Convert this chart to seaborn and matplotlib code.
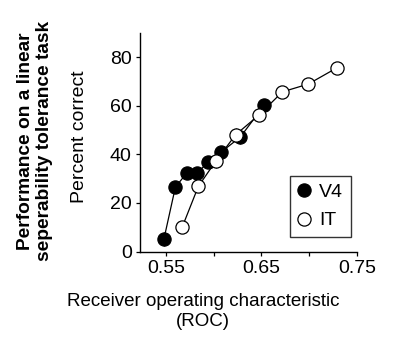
import numpy as np
import pandas as pd
import seaborn as sns
import matplotlib.pyplot as plt

# Values
v4_roc = [0.548, 0.560, 0.572, 0.583, 0.594, 0.608, 0.628, 0.653]
v4_pct = [5.1, 26.5, 32.4, 32.3, 36.8, 41.0, 47.2, 60.3]
v4_err = [3.0, 2.5, 2.5, 2.5, 2.5, 2.5, 3.0, 2.5]

it_roc = [0.567, 0.584, 0.602, 0.623, 0.647, 0.672, 0.699, 0.729]
it_pct = [9.9, 26.8, 37.1, 48.1, 56.1, 65.8, 69.0, 75.7]
it_err = [1.5, 2.0, 2.5, 3.0, 2.5, 2.5, 2.0, 2.5]

x_ticks = [0.55, 0.65, 0.75]
x_minor = [0.60, 0.70]
y_ticks = [0, 20, 40, 60, 80]

df = pd.concat([
    pd.DataFrame({'roc': v4_roc, 'pct': v4_pct, 'err': v4_err, 'area': 'V4'}),
    pd.DataFrame({'roc': it_roc, 'pct': it_pct, 'err': it_err, 'area': 'IT'}),
])

sns.set_style("ticks")
plt.rcParams['font.family'] = ['Liberation Sans', 'DejaVu Sans']
for k in ['text.color', 'axes.labelcolor', 'xtick.color', 'ytick.color', 'axes.edgecolor']:
    plt.rcParams[k] = 'black'

fig = plt.figure(figsize=(4.0, 3.37), dpi=100)
ax = fig.add_axes([0.35, 0.2537, 0.5425, 0.648])

faces = {'V4': 'black', 'IT': 'white'}
for area in ['V4', 'IT']:
    sub = df[df['area'] == area]
    ax.errorbar(sub['roc'], sub['pct'], yerr=sub['err'], fmt='none',
                ecolor='black', elinewidth=0.8, zorder=2)
    sns.lineplot(data=sub, x='roc', y='pct', color='black', linewidth=0.9,
                 marker='o', markersize=9.5, markerfacecolor=faces[area],
                 markeredgecolor='black', markeredgewidth=0.9,
                 label=area, ax=ax, zorder=3 if area == 'V4' else 4)

ax.set_xlim(0.523, 0.747)
ax.set_ylim(0, 90)
ax.set_xticks(x_ticks)
ax.set_xticklabels(['0.55', '0.65', '0.75'])
ax.set_xticks(x_minor, minor=True)
ax.set_yticks(y_ticks)
ax.tick_params(labelsize=14, length=3, width=0.9, pad=3)
ax.tick_params(axis='x', which='minor', length=3, width=0.9)
for s in ['left', 'bottom']:
    ax.spines[s].set_linewidth(1.0)
sns.despine(ax=ax)

ax.set_xlabel("Receiver operating characteristic\n(ROC)", fontsize=13.5,
              linespacing=1.25, va='center')
ax.xaxis.set_label_coords(0.29, -0.275)
ax.set_ylabel("Percent correct", fontsize=14, va='center')
ax.yaxis.set_label_coords(-0.28, 0.525)
fig.text(0.088, 1 - 141 / 337, "Performance on a linear\nseperability tolerance task",
         rotation=90, ha='center', va='center', fontsize=13.8, fontweight='bold',
         linespacing=1.2)

leg = ax.legend(loc='lower right', bbox_to_anchor=(0.972, 0.066), borderaxespad=0,
                fontsize=14, frameon=True, fancybox=False, edgecolor='black',
                handlelength=0.6, handletextpad=0.5, borderpad=0.4,
                labelspacing=0.55)
leg.get_frame().set_linewidth(1.0)
for line in leg.get_lines():
    line.set_linestyle('none')

fig.savefig('out.png', dpi=100)
